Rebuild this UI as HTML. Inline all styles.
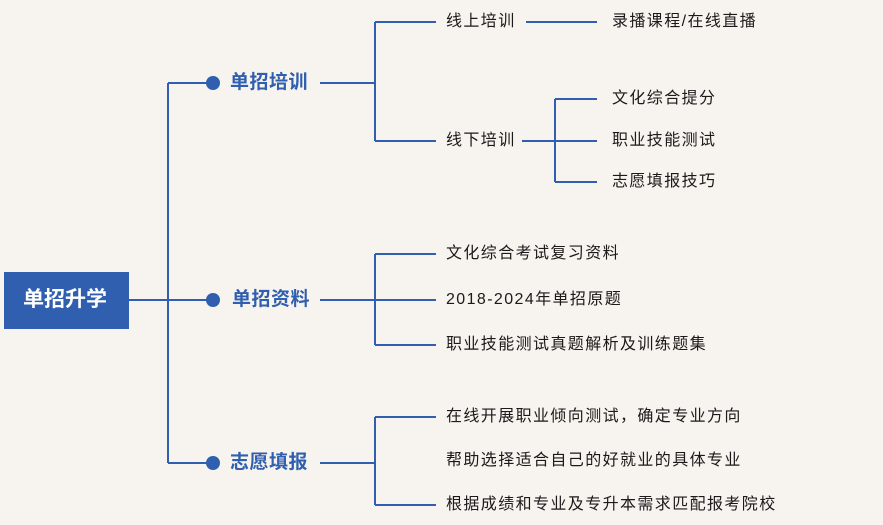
<!DOCTYPE html>
<html><head><meta charset="utf-8"><style>
body{margin:0;width:883px;height:525px;background:#f7f3ee;overflow:hidden;font-family:"Liberation Sans","Noto Sans CJK SC",sans-serif;}
.t{position:absolute;white-space:nowrap;line-height:1;}
.m{color:#2f5fae;font-size:19px;font-weight:bold;letter-spacing:0.5px;}
.l{color:#1a1a1a;font-size:16px;letter-spacing:1.4px;}
</style></head><body>
<svg width="883" height="525" style="position:absolute;left:0;top:0">
<g stroke="#2f5fae" stroke-width="2" fill="none">
<path d="M129 300H213M168 83V463M168 83H213M168 463H213"/>
<path d="M320 83H375M375 22V141M375 22H436M375 141H436"/>
<path d="M526 22H597M522 141H555M555 99V182M555 99H597M555 141H597M555 182H597"/>
<path d="M320 300H436M375 254V345M375 254H436M375 345H436"/>
<path d="M320 463H375M375 417V505M375 417H436M375 505H436"/>
</g>
<g fill="#2f5fae"><circle cx="213" cy="83" r="7"/><circle cx="213" cy="300" r="7"/><circle cx="213" cy="463" r="7"/></g>
<rect x="4" y="272" width="125" height="57" fill="#2f5fae"/>
</svg>
<div class="t" style="left:23px;top:289px;color:#fff;font-size:21px;font-weight:bold">单招升学</div>
<div class="t m" style="left:230px;top:73px">单招培训</div>
<div class="t m" style="left:232px;top:290px">单招资料</div>
<div class="t m" style="left:230px;top:453px">志愿填报</div>
<div class="t l" style="left:446px;top:14px">线上培训</div>
<div class="t l" style="left:612px;top:14px">录播课程/在线直播</div>
<div class="t l" style="left:446px;top:133px">线下培训</div>
<div class="t l" style="left:612px;top:91px">文化综合提分</div>
<div class="t l" style="left:612px;top:133px">职业技能测试</div>
<div class="t l" style="left:612px;top:174px">志愿填报技巧</div>
<div class="t l" style="left:446px;top:246px">文化综合考试复习资料</div>
<div class="t l" style="left:446px;top:292px">2018-2024年单招原题</div>
<div class="t l" style="left:446px;top:337px">职业技能测试真题解析及训练题集</div>
<div class="t l" style="left:446px;top:409px">在线开展职业倾向测试，确定专业方向</div>
<div class="t l" style="left:446px;top:453px">帮助选择适合自己的好就业的具体专业</div>
<div class="t l" style="left:446px;top:497px">根据成绩和专业及专升本需求匹配报考院校</div>
</body></html>
